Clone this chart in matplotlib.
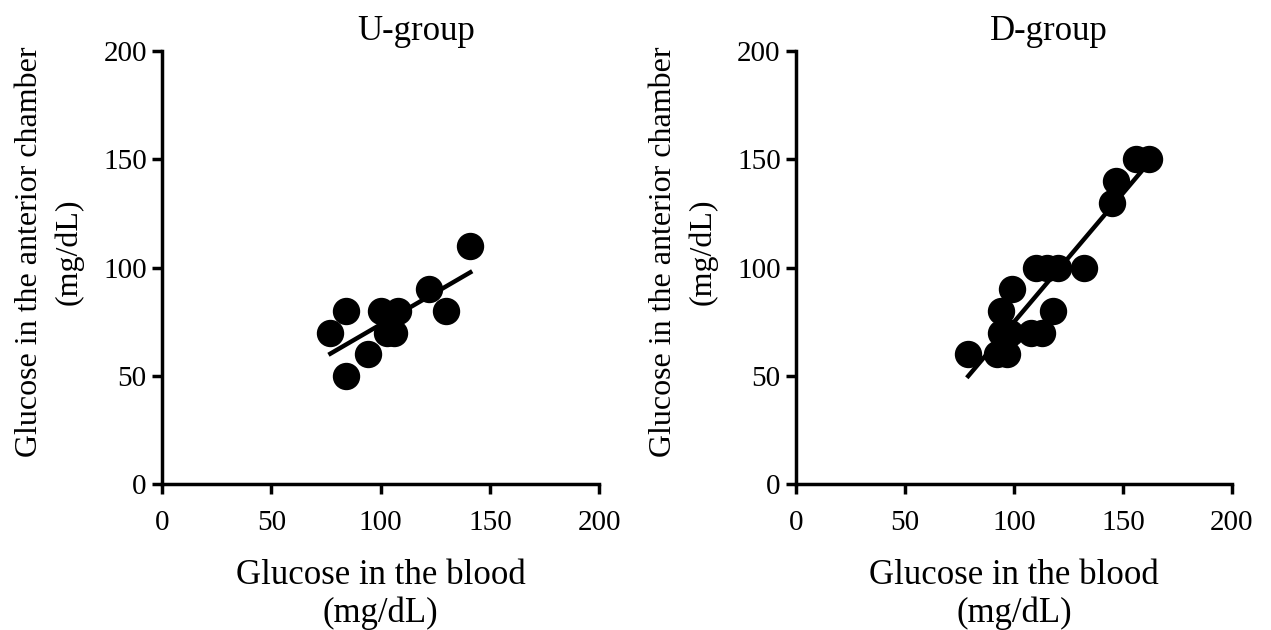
import numpy as np
import matplotlib
matplotlib.use("Agg")
import matplotlib.pyplot as plt

plt.rcParams["font.family"] = ["Liberation Serif", "DejaVu Serif"]

# U-group: blood vs anterior chamber glucose (mg/dL)
u_blood = [141, 122, 130, 84, 100, 108, 103, 106, 77, 94, 84]
u_chamber = [110, 90, 80, 80, 80, 80, 70, 70, 70, 60, 50]

# D-group
d_blood = [156, 162, 147, 145, 110, 115, 120, 132, 99, 118, 94,
           94, 98, 108, 113, 79, 92, 97]
d_chamber = [150, 150, 140, 130, 100, 100, 100, 100, 90, 80, 80,
             70, 70, 70, 70, 60, 60, 60]

ticks = [0, 50, 100, 150, 200]

fig = plt.figure(figsize=(12.71, 6.30), dpi=100)
ax1 = fig.add_axes([0.1275, 0.2317, 0.344, 0.687])
ax2 = fig.add_axes([0.6263, 0.2317, 0.343, 0.687])

for ax, x, y, title in [(ax1, u_blood, u_chamber, "U-group"),
                        (ax2, d_blood, d_chamber, "D-group")]:
    ax.scatter(x, y, s=350, color="black", zorder=3, clip_on=False)
    k, b = np.polyfit(x, y, 1)
    xx = np.array([min(x), max(x)])
    ax.plot(xx, k * xx + b, color="black", lw=3.2, zorder=2)
    ax.set_xlim(0, 200)
    ax.set_ylim(0, 200)
    ax.set_xticks(ticks)
    ax.set_yticks(ticks)
    ax.spines["top"].set_visible(False)
    ax.spines["right"].set_visible(False)
    ax.spines["left"].set_linewidth(2.5)
    ax.spines["bottom"].set_linewidth(2.5)
    ax.tick_params(width=2.5, length=7, labelsize=21)
    ax.tick_params(axis="x", pad=12)
    ax.tick_params(axis="y", pad=4)
    ax.set_title(title, fontsize=25, x=0.58, pad=8)
    ax.set_xlabel("Glucose in the blood\n(mg/dL)", fontsize=25, labelpad=16,
                  linespacing=1.2)
    ax.set_ylabel("Glucose in the anterior chamber\n(mg/dL)", fontsize=23,
                  labelpad=14, linespacing=1.45)
    ax.yaxis.label.set_y(0.536)

fig.savefig("out.png", dpi=100)
